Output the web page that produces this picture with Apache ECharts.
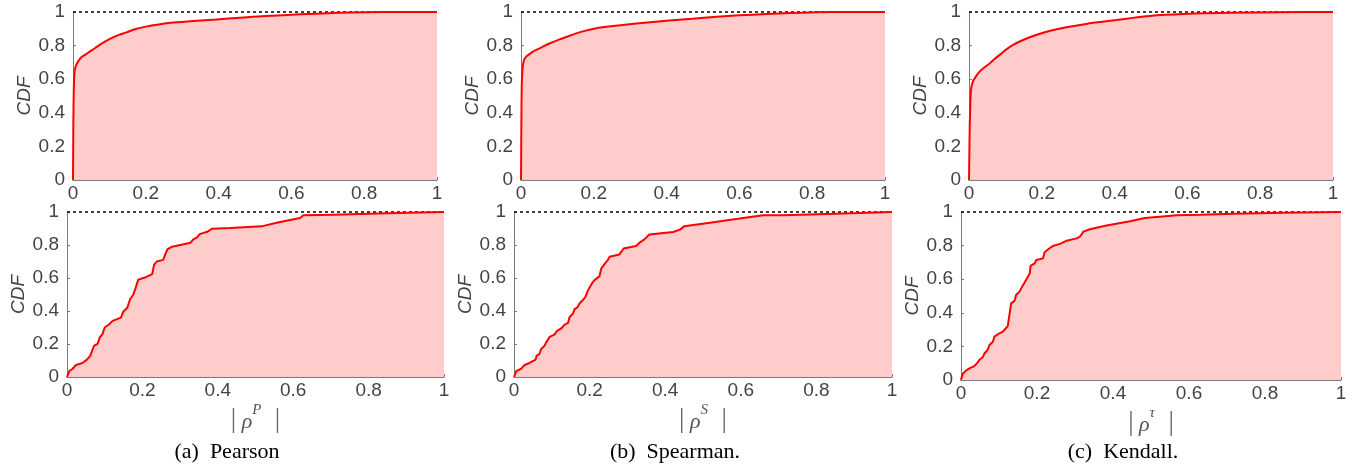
<!DOCTYPE html>
<html>
<head>
<meta charset="utf-8">
<script src="https://cdn.jsdelivr.net/npm/echarts@6/dist/echarts.min.js"></script>
<style>html,body{margin:0;padding:0;background:#fff}#c{width:1353px;height:468px}</style>
</head>
<body>
<div id="c"></div>
<script>
// ---- data ----
var yTicks = [0, 0.2, 0.4, 0.6, 0.8, 1];
var xTicks = [0, 0.2, 0.4, 0.6, 0.8, 1];
var captions = ['(a)  Pearson', '(b)  Spearman.', '(c)  Kendall.'];
var xNames = ['P', 'S', '\u03c4'];

// top row: all pairs
var pearsonAllX = [0, 0.001, 0.002, 0.003, 0.005, 0.008, 0.011, 0.016, 0.023, 0.033, 0.046, 0.06, 0.073, 0.09, 0.11, 0.128, 0.147, 0.17, 0.2, 0.235, 0.275, 0.33, 0.394, 0.46, 0.531, 0.623, 0.714, 0.806, 0.9, 1];
var pearsonAllY = [0, 0.35, 0.52, 0.595, 0.655, 0.68, 0.694, 0.712, 0.73, 0.745, 0.764, 0.784, 0.804, 0.826, 0.849, 0.865, 0.879, 0.897, 0.913, 0.926, 0.937, 0.947, 0.956, 0.966, 0.976, 0.986, 0.994, 0.998, 1, 1];
var spearmanAllX = [0, 0.001, 0.002, 0.004, 0.007, 0.011, 0.016, 0.024, 0.033, 0.045, 0.06, 0.08, 0.106, 0.13, 0.152, 0.178, 0.207, 0.24, 0.28, 0.34, 0.399, 0.47, 0.537, 0.6, 0.674, 0.74, 0.811, 0.9, 1];
var spearmanAllY = [0, 0.33, 0.556, 0.655, 0.704, 0.724, 0.738, 0.751, 0.764, 0.777, 0.794, 0.814, 0.837, 0.856, 0.873, 0.889, 0.903, 0.913, 0.923, 0.936, 0.948, 0.96, 0.972, 0.98, 0.988, 0.994, 0.998, 1, 1];
var kendallAllX = [0, 0.001, 0.002, 0.004, 0.006, 0.009, 0.013, 0.02, 0.029, 0.042, 0.057, 0.07, 0.084, 0.1, 0.121, 0.147, 0.176, 0.206, 0.24, 0.28, 0.322, 0.36, 0.405, 0.45, 0.496, 0.54, 0.588, 0.65, 0.725, 0.85, 1];
var kendallAllY = [0, 0.16, 0.317, 0.476, 0.546, 0.574, 0.595, 0.62, 0.645, 0.67, 0.694, 0.72, 0.744, 0.773, 0.804, 0.832, 0.857, 0.878, 0.897, 0.914, 0.929, 0.94, 0.952, 0.965, 0.976, 0.983, 0.988, 0.993, 0.996, 0.999, 1];

// bottom row: top pairs
var pearsonTopX = [0, 0.006, 0.015, 0.024, 0.041, 0.053, 0.062, 0.066, 0.072, 0.081, 0.087, 0.094, 0.1, 0.112, 0.121, 0.143, 0.149, 0.16, 0.167, 0.176, 0.182, 0.189, 0.209, 0.226, 0.231, 0.238, 0.255, 0.266, 0.279, 0.328, 0.335, 0.345, 0.352, 0.372, 0.385, 0.433, 0.516, 0.556, 0.618, 0.627, 0.706, 0.85, 1];
var pearsonTopY = [0, 0.036, 0.05, 0.073, 0.085, 0.105, 0.13, 0.155, 0.19, 0.2, 0.24, 0.26, 0.3, 0.32, 0.34, 0.36, 0.395, 0.42, 0.47, 0.5, 0.54, 0.59, 0.605, 0.623, 0.68, 0.7, 0.71, 0.773, 0.79, 0.814, 0.834, 0.846, 0.866, 0.88, 0.899, 0.903, 0.913, 0.935, 0.964, 0.98, 0.984, 0.992, 1];
var spearmanTopX = [0, 0.006, 0.019, 0.028, 0.041, 0.057, 0.06, 0.067, 0.072, 0.081, 0.085, 0.094, 0.107, 0.114, 0.125, 0.134, 0.143, 0.147, 0.156, 0.16, 0.169, 0.173, 0.182, 0.189, 0.195, 0.206, 0.213, 0.226, 0.231, 0.242, 0.248, 0.253, 0.279, 0.29, 0.323, 0.332, 0.345, 0.358, 0.421, 0.439, 0.45, 0.518, 0.597, 0.659, 0.712, 0.85, 1];
var spearmanTopY = [0, 0.036, 0.05, 0.073, 0.085, 0.105, 0.13, 0.138, 0.17, 0.19, 0.21, 0.243, 0.257, 0.28, 0.294, 0.318, 0.328, 0.364, 0.385, 0.41, 0.425, 0.445, 0.466, 0.486, 0.522, 0.567, 0.587, 0.611, 0.658, 0.692, 0.709, 0.729, 0.743, 0.779, 0.794, 0.814, 0.834, 0.864, 0.879, 0.893, 0.913, 0.935, 0.96, 0.98, 0.98, 0.99, 1];
var kendallTopX = [0, 0.004, 0.013, 0.022, 0.035, 0.044, 0.048, 0.057, 0.062, 0.07, 0.075, 0.084, 0.088, 0.101, 0.11, 0.123, 0.128, 0.132, 0.141, 0.145, 0.154, 0.161, 0.167, 0.176, 0.181, 0.183, 0.194, 0.198, 0.216, 0.22, 0.233, 0.242, 0.264, 0.278, 0.304, 0.313, 0.322, 0.339, 0.383, 0.445, 0.484, 0.568, 0.63, 0.717, 0.85, 1];
var kendallTopY = [0, 0.036, 0.056, 0.069, 0.083, 0.105, 0.119, 0.135, 0.159, 0.179, 0.208, 0.228, 0.258, 0.278, 0.288, 0.321, 0.397, 0.456, 0.472, 0.506, 0.526, 0.556, 0.579, 0.615, 0.635, 0.679, 0.694, 0.714, 0.724, 0.76, 0.784, 0.798, 0.813, 0.829, 0.843, 0.853, 0.883, 0.897, 0.92, 0.945, 0.964, 0.98, 0.984, 0.99, 0.996, 1];

// ---- build ----
function pairs(xs, ys) { return xs.map(function (x, i) { return [x, ys[i]]; }); }
var panels = [
  { xs: pearsonAllX, ys: pearsonAllY, grid: { left: 73, top: 12, width: 364, height: 168 }, name: null },
  { xs: spearmanAllX, ys: spearmanAllY, grid: { left: 521, top: 12, width: 364, height: 168 }, name: null },
  { xs: kendallAllX, ys: kendallAllY, grid: { left: 969, top: 12, width: 364, height: 168 }, name: null },
  { xs: pearsonTopX, ys: pearsonTopY, grid: { left: 67, top: 212, width: 377, height: 165 }, name: xNames[0] },
  { xs: spearmanTopX, ys: spearmanTopY, grid: { left: 514, top: 212, width: 378, height: 165 }, name: xNames[1] },
  { xs: kendallTopX, ys: kendallTopY, grid: { left: 961, top: 212, width: 380, height: 168 }, name: xNames[2] }
];
var axisGray = '#7a7a7a', txt = '#444';
var grids = [], xAxes = [], yAxes = [], series = [];
panels.forEach(function (p, i) {
  grids.push(p.grid);
  xAxes.push({
    type: 'value', gridIndex: i, min: xTicks[0], max: xTicks[xTicks.length - 1], interval: 0.2,
    axisLine: { lineStyle: { color: axisGray, width: 1 } },
    axisTick: { inside: true, length: 3, lineStyle: { color: axisGray } },
    splitLine: { show: false },
    axisLabel: { color: txt, fontSize: 19, fontFamily: 'Liberation Sans', margin: 4 },
    name: p.name ? '{b||}{n| \u03c1}{s|' + p.name + '}{b|  |}' : '',
    nameLocation: 'middle', nameGap: 26,
    nameTextStyle: {
      rich: {
        b: { fontSize: 27, color: '#666', fontFamily: 'Liberation Serif', lineHeight: 30, verticalAlign: 'bottom' },
        n: { fontSize: 22, color: '#555', fontFamily: 'Liberation Serif', fontStyle: 'italic', lineHeight: 30, verticalAlign: 'bottom' },
        s: { fontSize: 15, color: '#555', fontFamily: 'Liberation Serif', fontStyle: 'italic', lineHeight: 30, verticalAlign: 'top', padding: [0, 0, 10, 0] }
      }
    }
  });
  yAxes.push({
    type: 'value', gridIndex: i, min: yTicks[0], max: yTicks[yTicks.length - 1], interval: 0.2,
    axisLine: { show: true, lineStyle: { color: axisGray, width: 1 } },
    axisTick: { show: true, inside: true, length: 3, lineStyle: { color: axisGray } },
    splitLine: { show: false },
    axisLabel: { color: txt, fontSize: 19, fontFamily: 'Liberation Sans', margin: 8 },
    name: 'CDF', nameLocation: 'middle', nameRotate: 90, nameGap: 38,
    nameTextStyle: { color: txt, fontSize: 19, fontStyle: 'italic', fontFamily: 'Liberation Sans' }
  });
  series.push({
    type: 'line', xAxisIndex: i, yAxisIndex: i, data: pairs(p.xs, p.ys),
    showSymbol: false, symbol: 'none', smooth: i < 3 ? 0.25 : false,
    lineStyle: { color: '#ff0000', width: 2 },
    areaStyle: { color: '#ffcccc', opacity: 1 },
    z: 3,
    markLine: {
      silent: true, symbol: 'none', animation: false,
      label: { show: false },
      lineStyle: { color: '#000', type: [3, 3], width: 1.5 },
      data: [{ yAxis: 1 }],
      z: 2
    }
  });
});
var chart = echarts.init(document.getElementById('c'), null, { renderer: 'canvas' });
var capFont = '22px "Liberation Serif"';
chart.setOption({
  animation: false,
  grid: grids, xAxis: xAxes, yAxis: yAxes, series: series,
  graphic: [
    { type: 'text', x: 227, y: 452, style: { text: captions[0], fill: '#000', font: capFont, textAlign: 'center', textVerticalAlign: 'middle' } },
    { type: 'text', x: 675, y: 452, style: { text: captions[1], fill: '#000', font: capFont, textAlign: 'center', textVerticalAlign: 'middle' } },
    { type: 'text', x: 1123, y: 452, style: { text: captions[2], fill: '#000', font: capFont, textAlign: 'center', textVerticalAlign: 'middle' } }
  ]
});
</script>
</body>
</html>
